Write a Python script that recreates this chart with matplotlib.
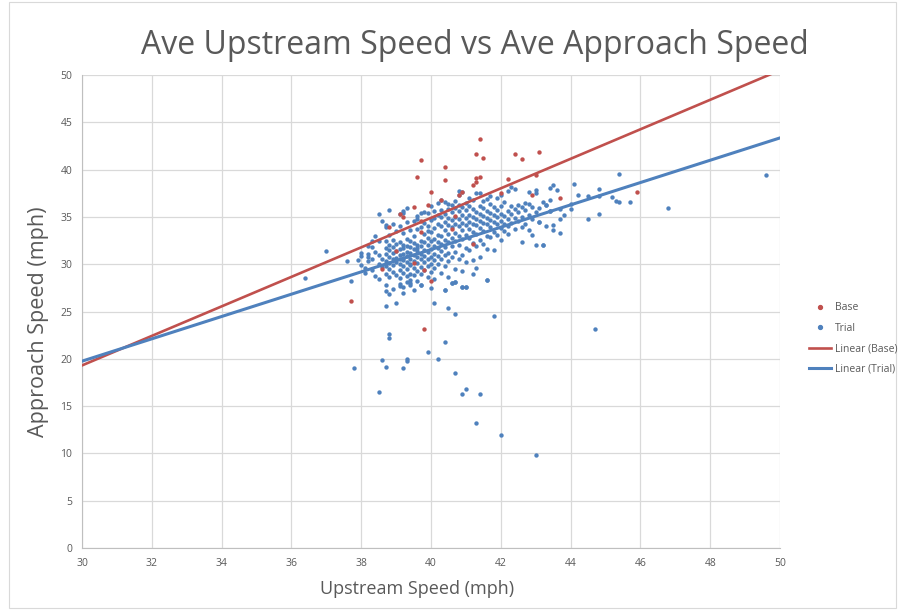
import numpy as np
import matplotlib
matplotlib.use("Agg")
import matplotlib.pyplot as plt
from matplotlib.lines import Line2D
from matplotlib.patches import Rectangle

# Base (red) points: (upstream speed, approach speed)
base = [
    (41.4, 43.2), (41.3, 41.6), (41.5, 41.2), (42.4, 41.6), (42.6, 41.1), (43.1, 41.9),
    (41.3, 39.1), (41.4, 39.2), (41.2, 38.4), (41.3, 38.7), (42.2, 39.0), (43.0, 39.4),
    (42.0, 37.5), (42.9, 37.3), (40.8, 37.3), (40.9, 37.6), (40.7, 35.1),
    (39.7, 41.0), (39.6, 39.2), (40.4, 40.3), (40.4, 38.9), (40.0, 37.6), (40.3, 36.8),
    (39.9, 36.3), (39.5, 36.0), (39.1, 35.3), (39.2, 35.0), (38.8, 33.9), (39.7, 34.6),
    (39.7, 33.4), (40.6, 33.7), (39.0, 31.4), (39.5, 30.1), (38.6, 29.5), (39.8, 29.4),
    (40.0, 28.2), (41.2, 32.1), (37.7, 26.1), (39.8, 23.2), (43.7, 37.0), (45.9, 37.6),
]

# Trial (blue) points
trial = [
    # 37.8 - 38.2
    (37.9, 30.4), (38.0, 30.9), (38.0, 31.2), (38.1, 29.6), (38.2, 31.9), (38.1, 29.1),
    (38.2, 30.3), (38.0, 29.9),
    # 38.2 - 38.6
    (38.3, 29.4), (38.3, 30.6), (38.4, 31.3), (38.4, 28.8), (38.5, 32.4), (38.5, 30.0),
    (38.3, 31.8), (38.6, 29.7), (38.5, 31.0), (38.4, 33.0), (38.6, 30.5), (38.5, 28.4),
    (38.3, 32.5), (38.6, 34.6), (38.5, 35.3),
    # 38.6 - 39.0
    (38.7, 29.0), (38.7, 29.8), (38.7, 30.3), (38.7, 31.1), (38.7, 31.7), (38.7, 32.4),
    (38.7, 33.9), (38.7, 34.1), (38.8, 28.6), (38.8, 29.5), (38.8, 30.1), (38.8, 30.8),
    (38.8, 31.5), (38.8, 32.0), (38.8, 33.1), (38.8, 35.7), (38.9, 29.2), (38.9, 29.9),
    (38.9, 30.5), (38.9, 31.2), (38.9, 31.8), (38.9, 32.6), (38.9, 34.2), (38.9, 27.4),
    (39.0, 28.9), (39.0, 30.2), (39.0, 30.7), (39.0, 31.4), (39.0, 32.1), (39.0, 33.5),
    (38.8, 26.9),
    # 39.0 - 39.4
    (39.1, 29.4), (39.1, 30.0), (39.1, 30.6), (39.1, 31.0), (39.1, 31.6), (39.1, 32.3),
    (39.1, 34.0), (39.1, 28.5), (39.2, 29.1), (39.2, 29.8), (39.2, 30.4), (39.2, 31.1),
    (39.2, 31.7), (39.2, 32.0), (39.2, 33.3), (39.2, 35.6), (39.2, 35.4), (39.2, 27.6),
    (39.3, 28.7), (39.3, 29.5), (39.3, 30.2), (39.3, 30.9), (39.3, 31.3), (39.3, 31.9),
    (39.3, 32.7), (39.3, 34.5), (39.4, 29.0), (39.4, 29.9), (39.4, 30.5), (39.4, 31.2),
    (39.4, 31.8), (39.4, 32.4), (39.4, 33.6), (39.4, 28.3), (39.3, 35.9), (39.1, 35.3),
    (39.4, 30.0), (39.2, 30.7),
    # 39.4 - 39.8
    (39.5, 28.9), (39.5, 29.6), (39.5, 30.3), (39.5, 31.0), (39.5, 31.6), (39.5, 32.2),
    (39.5, 33.0), (39.5, 34.6), (39.6, 28.2), (39.6, 29.3), (39.6, 30.1), (39.6, 30.8),
    (39.6, 31.4), (39.6, 32.0), (39.6, 33.7), (39.6, 35.1), (39.6, 34.8), (39.7, 29.0),
    (39.7, 29.7), (39.7, 30.5), (39.7, 31.1), (39.7, 31.9), (39.7, 32.5), (39.7, 35.4),
    (39.7, 27.8), (39.8, 29.4), (39.8, 30.2), (39.8, 30.9), (39.8, 31.5), (39.8, 32.3),
    (39.8, 33.2), (39.8, 34.4), (39.8, 35.5), (39.5, 27.3), (39.7, 33.9), (39.6, 31.7),
    # 39.8 - 40.2
    (39.9, 28.6), (39.9, 29.8), (39.9, 30.6), (39.9, 31.3), (39.9, 32.0), (39.9, 32.8),
    (39.9, 34.0), (39.9, 35.4), (40.0, 29.2), (40.0, 30.0), (40.0, 30.8), (40.0, 31.6),
    (40.0, 32.5), (40.0, 33.4), (40.0, 34.7), (40.0, 36.1), (40.0, 27.5), (40.1, 29.6),
    (40.1, 30.4), (40.1, 31.1), (40.1, 31.9), (40.1, 32.7), (40.1, 33.8), (40.1, 35.6),
    (40.1, 28.4), (40.2, 30.0), (40.2, 30.9), (40.2, 31.7), (40.2, 32.3), (40.2, 33.1),
    (40.2, 34.3), (40.2, 35.2), (40.2, 36.5), (40.1, 34.9), (39.9, 33.5),
    # 40.2 - 40.6
    (40.3, 29.1), (40.3, 30.6), (40.3, 31.4), (40.3, 32.1), (40.3, 33.0), (40.3, 34.0),
    (40.3, 35.7), (40.3, 36.8), (40.4, 29.8), (40.4, 31.0), (40.4, 31.8), (40.4, 32.6),
    (40.4, 33.6), (40.4, 34.5), (40.4, 35.3), (40.4, 36.6), (40.4, 27.3), (40.5, 30.3),
    (40.5, 31.2), (40.5, 32.3), (40.5, 33.2), (40.5, 34.1), (40.5, 34.9), (40.5, 35.8),
    (40.5, 28.6), (40.6, 30.8), (40.6, 31.9), (40.6, 32.8), (40.6, 33.9), (40.6, 34.7),
    (40.6, 35.5), (40.6, 36.3), (40.6, 28.0), (40.3, 35.0), (40.5, 36.4),
    # 40.6 - 41.0
    (40.7, 29.5), (40.7, 31.3), (40.7, 32.4), (40.7, 33.3), (40.7, 34.2), (40.7, 35.0),
    (40.7, 35.9), (40.7, 36.7), (40.7, 28.1), (40.8, 30.6), (40.8, 32.0), (40.8, 33.0),
    (40.8, 34.0), (40.8, 34.8), (40.8, 35.6), (40.8, 37.7), (40.8, 37.3), (40.9, 31.0),
    (40.9, 32.7), (40.9, 33.6), (40.9, 34.4), (40.9, 35.2), (40.9, 36.0), (40.9, 37.6),
    (40.9, 27.6), (41.0, 30.2), (41.0, 31.7), (41.0, 33.1), (41.0, 34.1), (41.0, 34.9),
    (41.0, 35.7), (41.0, 36.5), (41.0, 27.6), (40.8, 36.3), (40.9, 29.3),
    # 41.0 - 41.4
    (41.1, 31.5), (41.1, 32.8), (41.1, 33.7), (41.1, 34.5), (41.1, 35.2), (41.1, 36.1),
    (41.1, 37.0), (41.2, 30.4), (41.2, 32.2), (41.2, 33.4), (41.2, 34.3), (41.2, 35.0),
    (41.2, 35.8), (41.2, 36.8), (41.3, 31.9), (41.3, 33.2), (41.3, 34.1), (41.3, 34.8),
    (41.3, 35.5), (41.3, 37.5), (41.3, 29.6), (41.4, 32.6), (41.4, 33.8), (41.4, 34.6),
    (41.4, 35.3), (41.4, 36.2), (41.4, 37.5), (41.4, 30.8), (41.2, 29.0),
    # 41.4 - 41.8
    (41.5, 32.1), (41.5, 33.5), (41.5, 34.4), (41.5, 35.1), (41.5, 35.9), (41.5, 36.7),
    (41.6, 31.6), (41.6, 33.0), (41.6, 34.2), (41.6, 34.9), (41.6, 35.6), (41.6, 28.3),
    (41.7, 32.9), (41.7, 33.9), (41.7, 34.7), (41.7, 35.4), (41.7, 36.4), (41.7, 37.2),
    (41.8, 33.4), (41.8, 34.5), (41.8, 35.2), (41.8, 36.0), (41.8, 31.5), (41.6, 36.9),
    # 41.8 - 42.2
    (41.9, 33.1), (41.9, 34.2), (41.9, 35.0), (41.9, 35.7), (41.9, 37.0), (42.0, 32.6),
    (42.0, 33.8), (42.0, 34.6), (42.0, 35.3), (42.0, 36.2), (42.0, 37.3), (42.1, 33.5),
    (42.1, 34.3), (42.1, 35.1), (42.1, 36.6), (42.2, 34.0), (42.2, 34.8), (42.2, 35.6),
    (42.2, 37.7), (42.2, 33.2),
    # 42.2 - 42.6
    (42.3, 34.4), (42.3, 35.3), (42.3, 36.1), (42.3, 38.2), (42.4, 33.7), (42.4, 34.9),
    (42.4, 35.8), (42.4, 37.9), (42.5, 34.6), (42.5, 35.5), (42.5, 36.3), (42.6, 33.9),
    (42.6, 35.0), (42.6, 36.0), (42.6, 32.3),
    # 42.6 - 43.0
    (42.7, 34.3), (42.7, 35.7), (42.7, 36.5), (42.8, 33.6), (42.8, 35.2), (42.8, 37.6),
    (42.9, 34.8), (42.9, 36.0), (42.9, 33.1), (43.0, 35.5), (43.0, 37.8), (43.0, 37.5),
    (43.0, 32.0), (42.8, 36.4),
    # 43.0 - 43.4
    (43.1, 34.5), (43.1, 35.9), (43.2, 36.6), (43.2, 32.0), (43.3, 36.3), (43.3, 34.0),
    (43.4, 36.8), (43.4, 35.6), (43.4, 38.1),
    # right side
    (45.4, 39.5), (49.6, 39.4), (43.5, 38.4), (43.6, 37.8), (44.1, 38.5), (44.2, 37.3),
    (44.5, 37.2), (44.8, 37.9), (44.8, 37.2), (45.2, 37.1), (45.3, 36.7), (45.4, 36.6),
    (45.7, 36.6), (46.8, 35.9), (43.3, 36.3), (44.0, 36.4), (44.0, 35.8), (43.4, 35.6),
    (43.7, 35.8), (43.8, 35.2), (43.7, 34.8), (43.5, 34.1), (43.5, 33.6), (43.7, 33.3),
    (44.5, 34.8), (44.8, 35.3), (43.2, 32.0), (43.1, 34.5), (44.7, 23.2),
    # left side
    (37.0, 31.4), (36.4, 28.5), (37.6, 30.3), (37.7, 28.2), (38.2, 31.1), (38.2, 30.8),
    # lower points
    (38.7, 27.8), (38.7, 27.2), (39.1, 27.9), (39.1, 27.7), (39.3, 28.1), (39.4, 28.0),
    (39.4, 27.8), (39.7, 27.8), (39.2, 27.0), (38.7, 25.6), (39.0, 25.9), (40.1, 25.9),
    (40.4, 27.3), (40.5, 25.4), (40.6, 28.0), (40.7, 28.1), (40.7, 24.7), (40.9, 27.6),
    (41.0, 27.6), (41.6, 28.3), (41.8, 24.5), (38.8, 22.6), (38.8, 22.2), (40.4, 21.8),
    (39.9, 20.7), (38.6, 19.9), (39.3, 20.0), (39.3, 19.8), (40.2, 20.0), (37.8, 19.0),
    (38.7, 19.1), (39.2, 19.0), (40.7, 18.5), (38.5, 16.5), (41.0, 16.8), (40.9, 16.3),
    (41.4, 16.3), (41.3, 13.2), (42.0, 11.9), (43.0, 9.8),
]

# Linear trendlines: slope, intercept
base_fit = (1.56, -27.5)
trial_fit = (1.18, -15.65)

x_ticks = list(range(30, 51, 2))
y_ticks = list(range(0, 51, 5))

red = "#C0504D"
blue = "#4F81BD"
grey = "#595959"
font = ["Open Sans", "DejaVu Sans"]

plt.rcParams["font.family"] = font

fig = plt.figure(figsize=(9, 6.1), dpi=100)
ax = fig.add_axes([82 / 900, 62 / 610, 698 / 900, 473 / 610])

bx, by = np.array(base).T
tx, ty = np.array(trial).T

ax.scatter(tx, ty, s=10, color=blue, linewidths=0, zorder=3)
ax.scatter(bx, by, s=10, color=red, linewidths=0, zorder=3)

xs = np.array([30, 50])
ax.plot(xs, base_fit[0] * xs + base_fit[1], color=red, lw=1.9, zorder=4)
ax.plot(xs, trial_fit[0] * xs + trial_fit[1], color=blue, lw=2.2, zorder=4)

ax.set_xlim(30, 50)
ax.set_ylim(0, 50)
ax.set_xticks(x_ticks)
ax.set_yticks(y_ticks)
ax.grid(True, color="#d9d9d9", lw=0.9)
ax.set_axisbelow(True)
for s in ["top", "right"]:
    ax.spines[s].set_visible(False)
for s in ["left", "bottom"]:
    ax.spines[s].set_color("#bfbfbf")
ax.tick_params(length=0, labelsize=7.5, labelcolor=grey, pad=7)

ax.set_xlabel("Upstream Speed (mph)", fontsize=13, color=grey)
ax.xaxis.set_label_coords(0.48, -0.068)
ax.set_ylabel("Approach Speed (mph)", fontsize=15.5, color=grey)
ax.yaxis.set_label_coords(-0.047, 0.478)
fig.text(0.528, 0.925, "Ave Upstream Speed vs Ave Approach Speed",
         ha="center", va="center", fontsize=23, color=grey)

handles = [
    Line2D([], [], ls="", marker="o", ms=2.8, color=red, mec=red),
    Line2D([], [], ls="", marker="o", ms=2.8, color=blue, mec=blue),
    Line2D([], [], color=red, lw=1.9),
    Line2D([], [], color=blue, lw=2.2),
]
labels = ["Base", "Trial", "Linear (Base)", "Linear (Trial)"]
fig.legend(handles, labels, loc="center left", bbox_to_anchor=(0.888, 0.445),
           frameon=False, fontsize=7.5, labelcolor=grey, handlelength=2.2,
           handletextpad=0.3, labelspacing=0.9)

fig.patches.append(Rectangle((9 / 900, 2 / 610), 887 / 900, 606 / 610,
                             transform=fig.transFigure, fill=False,
                             edgecolor="#d9d9d9", lw=0.8))

fig.savefig("out.png", dpi=100)
